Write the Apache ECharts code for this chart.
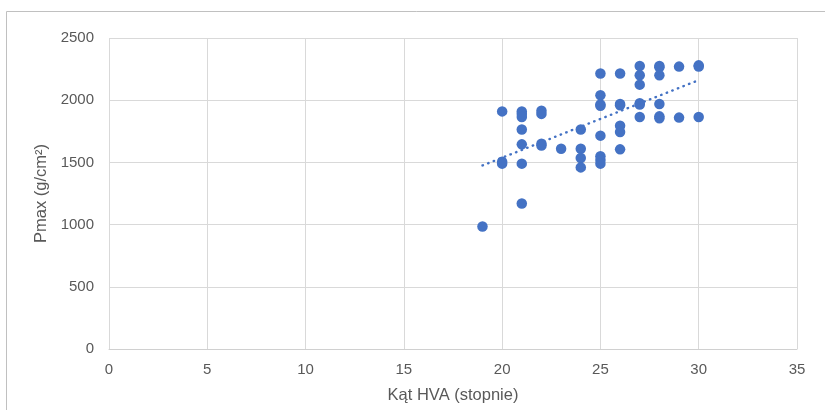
<!DOCTYPE html>
<html>
<head>
<meta charset="utf-8">
<script src="https://cdn.jsdelivr.net/npm/echarts@6/dist/echarts.min.js"></script>
<style>
html,body{margin:0;padding:0;background:#fff;}
#c{width:825px;height:410px;}
</style>
</head>
<body>
<div id="c"></div>
<script>
// Kąt HVA (stopnie) values
const xValues = [
  19,
  20, 20, 20,
  21, 21, 21, 21, 21, 21, 21,
  22, 22, 22, 22,
  23,
  24, 24, 24, 24,
  25, 25, 25, 25, 25, 25, 25, 25,
  26, 26, 26, 26, 26, 26,
  27, 27, 27, 27, 27, 27,
  28, 28, 28, 28, 28, 28,
  29, 29,
  30, 30, 30
];
// Pmax (g/cm²) values
const yValues = [
  985,
  1910, 1505, 1490,
  1910, 1890, 1865, 1765, 1645, 1490, 1170,
  1915, 1890, 1650, 1635,
  1610,
  1765, 1610, 1535, 1460,
  2215, 2040, 1965, 1955, 1715, 1550, 1520, 1490,
  2215, 1970, 1960, 1795, 1745, 1605,
  2275, 2200, 2125, 1975, 1965, 1865,
  2275, 2265, 2200, 1970, 1870, 1855,
  2270, 1860,
  2280, 2270, 1865
];
const xTicks = [0, 5, 10, 15, 20, 25, 30, 35];
const yTicks = [0, 500, 1000, 1500, 2000, 2500];

const points = xValues.map((x, i) => [x, yValues[i]]);

// linear trend line (least squares) from the data
const n = xValues.length;
const mx = xValues.reduce((a, b) => a + b, 0) / n;
const my = yValues.reduce((a, b) => a + b, 0) / n;
let sxy = 0, sxx = 0;
for (let i = 0; i < n; i++) {
  sxy += (xValues[i] - mx) * (yValues[i] - my);
  sxx += (xValues[i] - mx) * (xValues[i] - mx);
}
const slope = sxy / sxx;
const icpt = my - slope * mx;
const xMin = Math.min(...xValues), xMax = Math.max(...xValues);
const trend = [[xMin, icpt + slope * xMin], [xMax, icpt + slope * xMax]];

const font = 'Liberation Sans, Arial, sans-serif';
const chart = echarts.init(document.getElementById('c'), null, {renderer: 'canvas'});
chart.setOption({
  animation: false,
  backgroundColor: '#fff',
  graphic: [{
    type: 'rect',
    shape: {x: 6.5, y: 11.5, width: 900, height: 500},
    style: {fill: 'none', stroke: '#c0c0c0', lineWidth: 1},
    silent: true, z: -1
  }],
  grid: {left: 109, right: 28, top: 38, bottom: 61},
  xAxis: {
    type: 'value',
    min: xTicks[0], max: xTicks[xTicks.length - 1], interval: 5,
    name: 'Kąt HVA (stopnie)',
    nameLocation: 'middle',
    nameGap: 38,
    nameTextStyle: {color: '#595959', fontSize: 16.5, fontFamily: font},
    axisLine: {show: true, lineStyle: {color: '#d0d0d0', width: 1}},
    axisTick: {show: false},
    axisLabel: {color: '#595959', fontSize: 15, fontFamily: font, margin: 13, formatter: v => String(v)},
    splitLine: {show: true, lineStyle: {color: '#d9d9d9', width: 1}}
  },
  yAxis: {
    type: 'value',
    min: yTicks[0], max: yTicks[yTicks.length - 1], interval: 500,
    name: 'Pmax (g/cm²)',
    nameLocation: 'middle',
    nameGap: 49,
    nameTextStyle: {color: '#595959', fontSize: 16.5, fontFamily: font},
    axisLine: {show: false},
    axisTick: {show: false},
    axisLabel: {color: '#595959', fontSize: 15, fontFamily: font, margin: 15, formatter: v => String(v)},
    splitLine: {show: true, lineStyle: {color: '#d9d9d9', width: 1}}
  },
  series: [
    {
      type: 'scatter',
      data: points,
      symbol: 'circle',
      symbolSize: 10.5,
      itemStyle: {color: '#4472C4', opacity: 1},
      z: 2
    },
    {
      type: 'line',
      data: trend,
      showSymbol: false,
      symbol: 'none',
      lineStyle: {color: '#4472C4', width: 2.4, type: [0.5, 5.5], cap: 'round'},
      z: 3
    }
  ]
});
</script>
</body>
</html>
